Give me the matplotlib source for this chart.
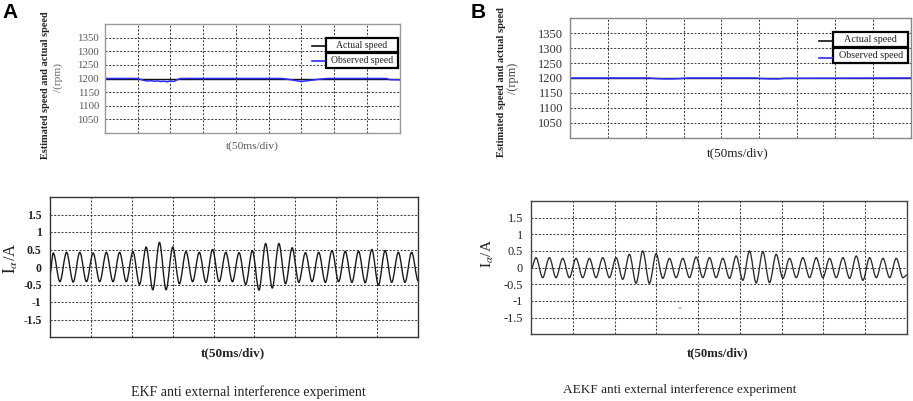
import numpy as np
import matplotlib
matplotlib.use("Agg")
import matplotlib.pyplot as plt
from matplotlib.patches import Rectangle, PathPatch
from matplotlib.lines import Line2D
from matplotlib.path import Path

plt.rcParams['font.family'] = ['Liberation Serif', 'DejaVu Serif']
plt.rcParams['mathtext.fontset'] = 'stix'
plt.rcParams['axes.unicode_minus'] = False

W, H = 913, 401

# --- data: speed panels (t in ms, speed in rpm) ---
t_actual = [0, 450]
actual_speed = [1200, 1200]

t_obs_a = [0, 50, 55, 60, 65, 70, 75, 80, 85, 90, 95, 100, 105, 110, 115,
           270, 280, 290, 300, 310, 320, 330, 340, 430, 435, 450]
obs_speed_a = [1200, 1200, 1196, 1193, 1191, 1192, 1190, 1191, 1189, 1190, 1188, 1191, 1189, 1195, 1200,
               1200, 1197, 1193, 1189, 1192, 1195, 1198, 1200, 1200, 1196, 1195]

t_obs_b = [0, 105, 115, 125, 135, 145, 155, 245, 255, 265, 275, 285, 450]
obs_speed_b = [1200, 1200, 1198, 1197, 1197, 1198, 1200, 1200, 1198, 1197, 1197, 1199, 1200]

speed_ticks = [1050, 1100, 1150, 1200, 1250, 1300, 1350]

# --- data: phase current extrema (A) ---
peaks_a = [0.40, 0.42, 0.42, 0.40, 0.42, 0.42, 0.44, 0.57, 0.70, 0.57, 0.44, 0.42, 0.50, 0.42,
           0.41, 0.47, 0.67, 0.67, 0.55, 0.41, 0.42, 0.47, 0.45, 0.45, 0.50, 0.47, 0.42, 0.42]
troughs_a = [-0.42, -0.43, -0.42, -0.42, -0.42, -0.42, -0.50, -0.65, -0.65, -0.48, -0.42, -0.44, -0.42, -0.42,
             -0.50, -0.66, -0.60, -0.48, -0.44, -0.42, -0.44, -0.42, -0.44, -0.45, -0.52, -0.44, -0.44, -0.40]
start_a, first_peak_a, half_period_a = -0.2, 4.0, 8.115

peaks_b = [0.30, 0.30, 0.28, 0.28, 0.28, 0.30, 0.30, 0.40, 0.50, 0.42, 0.28, 0.28, 0.32, 0.30,
           0.28, 0.35, 0.50, 0.48, 0.40, 0.28, 0.30, 0.30, 0.28, 0.30, 0.35, 0.30, 0.28, 0.28]
troughs_b = [-0.30, -0.30, -0.30, -0.30, -0.30, -0.30, -0.35, -0.47, -0.47, -0.32, -0.30, -0.30, -0.30, -0.30,
             -0.32, -0.38, -0.46, -0.45, -0.32, -0.30, -0.30, -0.30, -0.30, -0.32, -0.38, -0.30, -0.30, -0.30]
start_b, first_peak_b, half_period_b, end_b = -0.05, 6.0, 7.985, -0.22

current_ticks = [-1.5, -1, -0.5, 0, 0.5, 1, 1.5]
current_labels = ['-1.5', '-1', '-0.5', '0', '0.5', '1', '1.5']
t_grid = np.arange(50, 450, 50)


def px_axes(fig, l, t, r, b):
    return fig.add_axes([l / W, 1 - b / H, (r - l) / W, (b - t) / H])


def ftext(fig, x, y, s, **kw):
    kw.setdefault('ha', 'center')
    kw.setdefault('va', 'center')
    fig.text(x / W, 1 - y / H, s, **kw)


def style_axes(ax, frame_color, grid_color):
    for sp in ax.spines.values():
        sp.set_color(frame_color)
        sp.set_linewidth(1.0)
    ax.set_xticks(t_grid)
    ax.set_xticklabels([])
    ax.tick_params(length=0)
    ax.grid(True, color=grid_color, linestyle=(0, (2, 1.5)), linewidth=0.75)
    ax.set_axisbelow(True)


def extrema_series(start, first_peak, half_period, peaks, troughs, end=None):
    vals = [start]
    for p, tr in zip(peaks, troughs):
        vals += [p, tr]
    times = [0.0] + list(first_peak + half_period * np.arange(len(vals) - 1))
    if end is not None:
        times.append(450.0)
        vals.append(end)
    return times, vals


def smooth_trace(ax, times, vals, color, lw):
    # cubic Bezier between successive extrema, flat tangent at each extremum
    verts = [(times[0], vals[0])]
    codes = [Path.MOVETO]
    for i in range(1, len(times)):
        t0, t1 = times[i - 1], times[i]
        d = (t1 - t0) / 3
        verts += [(t0 + d, vals[i - 1]), (t1 - d, vals[i]), (t1, vals[i])]
        codes += [Path.CURVE4] * 3
    ax.add_patch(PathPatch(Path(verts, codes), fill=False, edgecolor=color, linewidth=lw))


def legend_boxes(fig, l, r, rows, fs):
    # rows: (top, bottom, line_y, label, color)
    for top, bot, ly, label, color in rows:
        fig.patches.append(Rectangle((l / W, 1 - bot / H), (r - l) / W, (bot - top) / H,
                                     transform=fig.transFigure, fill=True, facecolor='white',
                                     edgecolor='black', linewidth=1.6))
        ftext(fig, (l + r) / 2, (top + bot) / 2, label, fontsize=fs, color='#222')
        fig.lines.append(Line2D([(l - 14) / W, (l - 1) / W], [1 - ly / H, 1 - ly / H],
                                transform=fig.transFigure, color=color, linewidth=1.2))


fig = plt.figure(figsize=(W / 100, H / 100), dpi=100)

# ---------- A top ----------
ax = px_axes(fig, 105, 24, 399.5, 133)
ax.plot(t_actual, actual_speed, color='#111', linewidth=1.0)
ax.plot(t_obs_a, obs_speed_a, color='#2b2bff', linewidth=1.1)
ax.set_xlim(0, 450)
ax.set_ylim(1000, 1400)
ax.set_yticks(speed_ticks)
style_axes(ax, '#999', '#444')
ax.tick_params(axis='y', labelsize=7.8, labelcolor='#555', pad=4.3)
legend_boxes(fig, 326, 398, [(37.7, 52.3, 45.7, 'Actual speed', '#111'),
                             (53.3, 68.3, 61.0, 'Observed speed', '#2b2bff')], 7.0)
ftext(fig, 45, 85, 'Estimated speed and actual speed', rotation=90, fontsize=7.4,
      fontweight='bold', color='#222')
ftext(fig, 58, 78, '/(rpm)', rotation=90, fontsize=8.2, color='#666')
ftext(fig, 252, 146, 't(50ms/div)', fontsize=8.2, color='#555')

# ---------- B top ----------
ax = px_axes(fig, 570, 18.3, 910.5, 137.7)
ax.plot(t_actual, actual_speed, color='#111', linewidth=1.0)
ax.plot(t_obs_b, obs_speed_b, color='#2b2bff', linewidth=1.1)
ax.set_xlim(0, 450)
ax.set_ylim(1000, 1400)
ax.set_yticks(speed_ticks)
style_axes(ax, '#888', '#444')
ax.tick_params(axis='y', labelsize=9, labelcolor='#333', pad=4.8)
legend_boxes(fig, 833.3, 908.3, [(31.7, 47.3, 41.0, 'Actual speed', '#111'),
                                 (48.3, 63.3, 58.3, 'Observed speed', '#2b2bff')], 7.3)
ftext(fig, 501.7, 82, 'Estimated speed and actual speed', rotation=90, fontsize=7.6,
      fontweight='bold', color='#222')
ftext(fig, 513.3, 78, '/(rpm)', rotation=90, fontsize=8.8, color='#444')
ftext(fig, 738, 153, 't(50ms/div)', fontsize=9.5, color='#222')

# ---------- A bottom ----------
ax = px_axes(fig, 50, 197, 418, 337)
ta, ia = extrema_series(start_a, first_peak_a, half_period_a, peaks_a, troughs_a)
smooth_trace(ax, ta, ia, '#1a1a1a', 1.0)
ax.set_xlim(0, 450)
ax.set_ylim(-2, 2)
ax.set_yticks(current_ticks)
ax.set_yticklabels(current_labels)
style_axes(ax, '#333', '#444')
ax.tick_params(axis='y', labelsize=8.5, labelcolor='#222', pad=6)
for lab in ax.get_yticklabels():
    lab.set_fontweight('bold')
ftext(fig, 10.5, 258, r'$\mathrm{I}_{\alpha}$/A', rotation=90, fontsize=12, color='#222')
ftext(fig, 233, 353, 't(50ms/div)', fontsize=9.5, fontweight='bold', color='#222')
ftext(fig, 248, 391.7, 'EKF anti external interference experiment', fontsize=10, color='#222')

# ---------- B bottom ----------
ax = px_axes(fig, 531, 201, 907, 334.3)
tb, ib = extrema_series(start_b, first_peak_b, half_period_b, peaks_b, troughs_b, end_b)
smooth_trace(ax, tb, ib, '#2a2a2a', 0.95)
ax.set_xlim(0, 450)
ax.set_ylim(-2, 2)
ax.set_yticks(current_ticks)
ax.set_yticklabels(current_labels)
style_axes(ax, '#444', '#444')
ax.tick_params(axis='y', labelsize=8.8, labelcolor='#222', pad=5.8)
ax.text(178, -1.2, '=', fontsize=5, color='#444', ha='center', va='center')
ftext(fig, 488, 253, r'$\mathrm{I}_{\alpha}$/A', rotation=90, fontsize=11, color='#222')
ftext(fig, 718, 353, 't(50ms/div)', fontsize=9.2, fontweight='bold', color='#222')
ftext(fig, 680, 390, 'AEKF anti external interference experiment', fontsize=9.5, color='#222')

# panel letters
ftext(fig, 10, 13, 'A', fontsize=15, fontweight='bold', family='Liberation Sans')
ftext(fig, 478, 12, 'B', fontsize=15, fontweight='bold', family='Liberation Sans')

fig.savefig('out.png', dpi=100)
